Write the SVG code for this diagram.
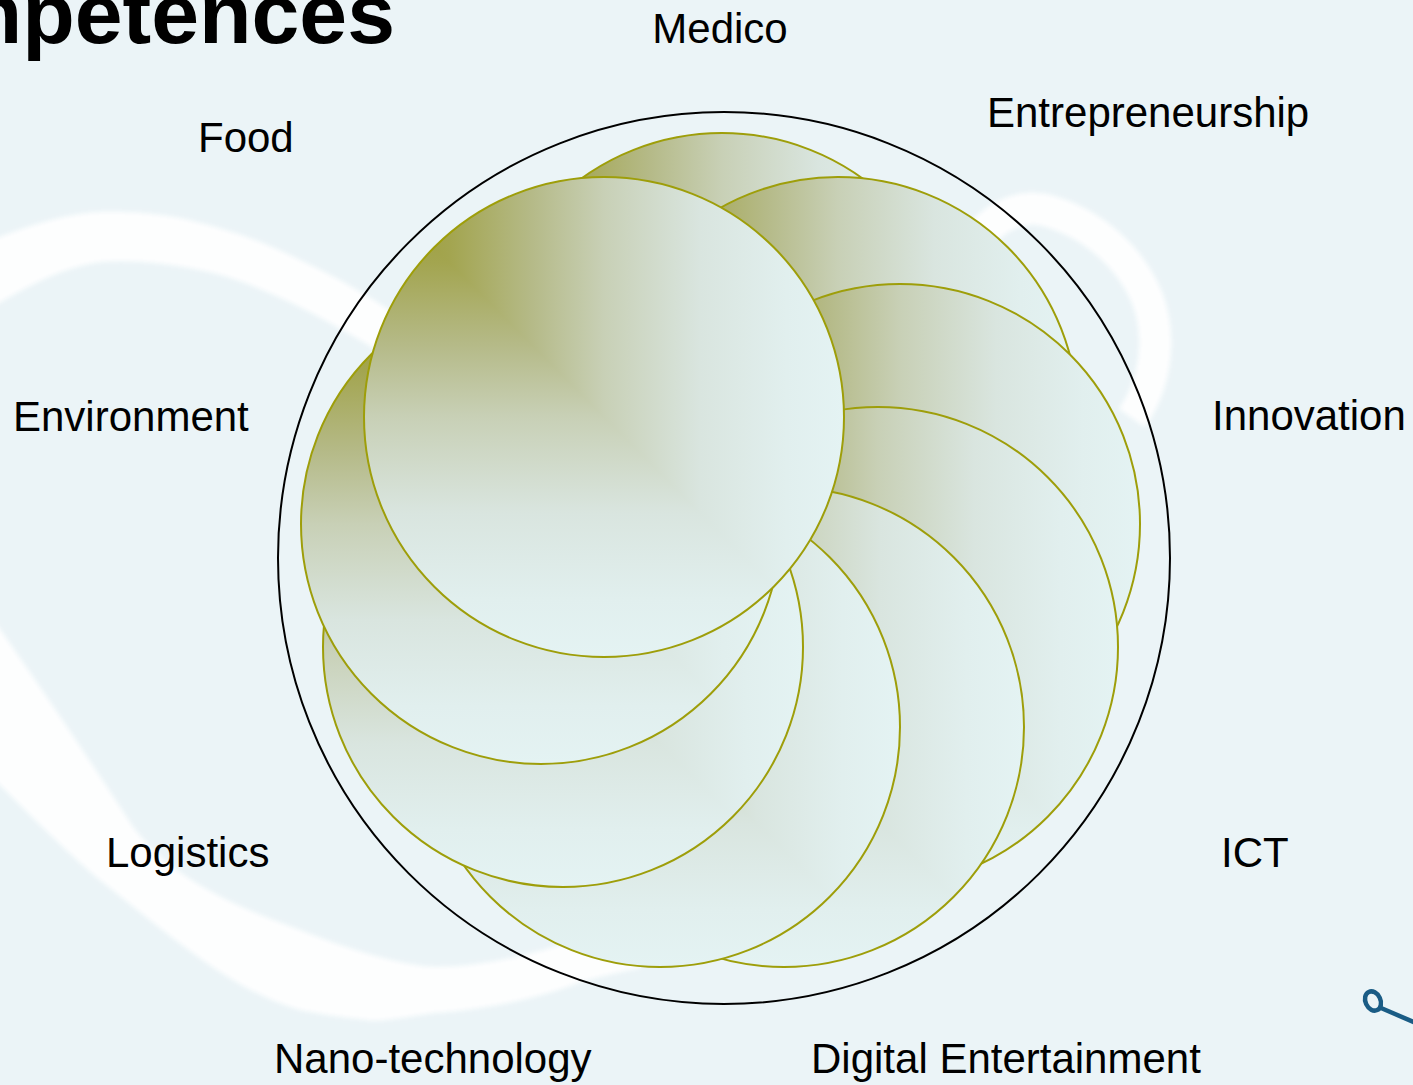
<svg xmlns="http://www.w3.org/2000/svg" width="1413" height="1085" viewBox="0 0 1413 1085">
<style>
.lbl{font-family:"Liberation Sans",Arial,sans-serif;font-size:42px;fill:#000}
.title{font-family:"Liberation Sans",Arial,sans-serif;font-size:86px;font-weight:bold;fill:#000}
.h{fill:url(#gh)}
.v{fill:url(#gv);clip-path:url(#ll)}
.rim{fill:none;stroke:#9E9E0A;stroke-width:2}
.band{fill:#FFFFFF}
</style>
<defs>
<linearGradient id="gh" x1="0" y1="0" x2="1" y2="0">
<stop offset="0" stop-color="#9A9A2C"/>
<stop offset="0.18" stop-color="#A3A550"/>
<stop offset="0.35" stop-color="#B5BA88"/>
<stop offset="0.5" stop-color="#C8D0B6"/>
<stop offset="0.7" stop-color="#D9E5DF"/>
<stop offset="0.88" stop-color="#E1EFEE"/>
<stop offset="1" stop-color="#E4F3F3"/>
</linearGradient>
<linearGradient id="gv" x1="0" y1="0" x2="0" y2="1">
<stop offset="0" stop-color="#9A9A2C"/>
<stop offset="0.18" stop-color="#A3A550"/>
<stop offset="0.35" stop-color="#B5BA88"/>
<stop offset="0.5" stop-color="#C8D0B6"/>
<stop offset="0.7" stop-color="#D9E5DF"/>
<stop offset="0.88" stop-color="#E1EFEE"/>
<stop offset="1" stop-color="#E4F3F3"/>
</linearGradient>
<clipPath id="ll" clipPathUnits="objectBoundingBox">
<polygon points="0,0 1,1 0,1"/>
</clipPath>
<filter id="soft" x="-5%" y="-5%" width="110%" height="110%">
<feGaussianBlur stdDeviation="2.5"/>
</filter>
</defs>
<rect x="0" y="0" width="1413" height="1085" fill="#EBF4F7"/>
<g id="background-swirl" filter="url(#soft)" opacity="0.95">
<path class="band" d="M-8,240 C30,225 70,213 100,212 C140,211 170,215 200,223 C240,233 270,245 300,260 C330,274 360,290 420,330 L400,365 C370,345 335,325 300,307 C265,290 235,277 200,270 C165,263 130,259 100,262 C60,268 30,285 -8,307 Z"/>
<path class="band" d="M-8,618 C30,672 80,745 133,827 C160,862 200,895 300,930 C350,950 400,965 433,967 C470,968 520,958 560,945 C590,935 615,925 645,915 L640,968 C620,972 590,978 567,987 C530,1000 480,1010 433,1013 C400,1018 380,1022 367,1020 C340,1017 320,1014 300,1010 C230,990 170,935 100,880 C70,855 30,815 -8,777 Z"/>
<path d="M983,232 C1000,215 1020,205 1045,210 C1090,222 1130,255 1148,300 C1162,340 1155,385 1132,418" fill="none" stroke="#FFFFFF" stroke-width="32"/>
</g>
<g id="title"><text class="title" x="395" y="43" text-anchor="end">Competences</text></g>
<g id="connectors"></g>
<g id="outer-ring"><circle cx="724" cy="558" r="446" fill="none" stroke="#000" stroke-width="2"/></g>
<g id="node-1"><circle class="h" cx="722" cy="373" r="240"/><circle class="v" cx="722" cy="373" r="240"/><circle class="rim" cx="722" cy="373" r="240"/></g>
<g id="node-2"><circle class="h" cx="838" cy="417" r="240"/><circle class="v" cx="838" cy="417" r="240"/><circle class="rim" cx="838" cy="417" r="240"/></g>
<g id="node-3"><circle class="h" cx="900" cy="524" r="240"/><circle class="v" cx="900" cy="524" r="240"/><circle class="rim" cx="900" cy="524" r="240"/></g>
<g id="node-4"><circle class="h" cx="878" cy="647" r="240"/><circle class="v" cx="878" cy="647" r="240"/><circle class="rim" cx="878" cy="647" r="240"/></g>
<g id="node-5"><circle class="h" cx="784" cy="727" r="240"/><circle class="v" cx="784" cy="727" r="240"/><circle class="rim" cx="784" cy="727" r="240"/></g>
<g id="node-6"><circle class="h" cx="660" cy="727" r="240"/><circle class="v" cx="660" cy="727" r="240"/><circle class="rim" cx="660" cy="727" r="240"/></g>
<g id="node-7"><circle class="h" cx="563" cy="647" r="240"/><circle class="v" cx="563" cy="647" r="240"/><circle class="rim" cx="563" cy="647" r="240"/></g>
<g id="node-8"><circle class="h" cx="541" cy="524" r="240"/><circle class="v" cx="541" cy="524" r="240"/><circle class="rim" cx="541" cy="524" r="240"/></g>
<g id="node-9"><circle class="h" cx="604" cy="417" r="240"/><circle class="v" cx="604" cy="417" r="240"/><circle class="rim" cx="604" cy="417" r="240"/></g>
<g id="labels">
<text class="lbl" x="720" y="43" text-anchor="middle">Medico</text>
<text class="lbl" x="987" y="127">Entrepreneurship</text>
<text class="lbl" x="198" y="152">Food</text>
<text class="lbl" x="13" y="431">Environment</text>
<text class="lbl" x="1212" y="430">Innovation</text>
<text class="lbl" x="106" y="867">Logistics</text>
<text class="lbl" x="1221" y="867">ICT</text>
<text class="lbl" x="274" y="1073">Nano-technology</text>
<text class="lbl" x="811" y="1073">Digital Entertainment</text>
</g>
<g id="logo">
<ellipse cx="1373" cy="1001" rx="7.5" ry="10" transform="rotate(-25 1373 1001)" fill="none" stroke="#1A5C85" stroke-width="4.5"/>
<line x1="1381" y1="1008" x2="1416" y2="1023" stroke="#1A5C85" stroke-width="4.5"/>
</g>
</svg>
